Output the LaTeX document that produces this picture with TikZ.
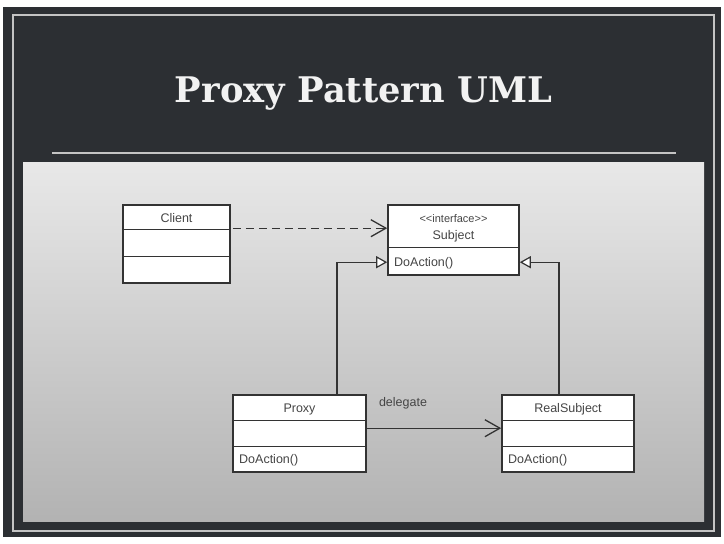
\documentclass[tikz,border=0pt]{standalone}
\usepackage{fontspec}
\usepackage{graphicx}
\setmainfont{Liberation Sans}
\newfontfamily\titlefont{DejaVu Serif}
\usetikzlibrary{arrows.meta}
\definecolor{slate}{HTML}{2C2F33}
\definecolor{frameline}{HTML}{C4C4C4}
\definecolor{boxline}{HTML}{333333}
\definecolor{txt}{HTML}{454545}
\tikzset{
  classbox/.style={draw=boxline, line width=1.6pt, fill=white, rectangle, inner sep=0pt},
  divider/.style={draw=boxline, line width=1.4pt},
  lbl/.style={font=\fontsize{12.5}{14}\selectfont, text=txt, inner sep=0pt},
  conn/.style={draw=boxline, line width=1.3pt},
  gen/.style={conn, -{Triangle[length=11pt,width=12pt,fill=white,line width=1.2pt]}},
  assoc/.style={conn, -{Straight Barb[length=15pt,width=17pt,line width=1.3pt]}},
  dep/.style={assoc, dash pattern=on 8pt off 5pt}
}
\begin{document}
\begin{tikzpicture}[x=1pt,y=-1pt]
\useasboundingbox (0,0) rectangle (724,544);
\fill[white] (0,0) rectangle (724,544);
\fill[slate] (3,7) rectangle (721,537);
\draw[frameline, line width=1.5pt] (13,15) rectangle (714,531);
\node[anchor=base, text=white!90!gray, inner sep=0pt] (title) at (363.5,102)
  {\resizebox{377pt}{!}{\titlefont\bfseries Proxy Pattern UML}};
\draw[frameline, line width=2pt] (52,153) -- (676,153);
\shade[top color=white!91!black, bottom color=white!70!black] (23,162) rectangle (704,521);

% Client
\node[classbox, minimum width=107pt, minimum height=78pt] (client) at (176.5,244) {};
\draw[divider] ([yshift=-25pt]client.north west) -- ([yshift=-25pt]client.north east);
\draw[divider] ([yshift=-52pt]client.north west) -- ([yshift=-52pt]client.north east);
\node[lbl] (clientname) at (176.5,218) {Client};

% Subject
\node[classbox, minimum width=131pt, minimum height=70pt] (subject) at (453.5,240) {};
\draw[divider] ([yshift=-43.5pt]subject.north west) -- ([yshift=-43.5pt]subject.north east);
\node[lbl, font=\fontsize{11}{13}\selectfont] (stereo) at (453.5,219) {{<}{<}interface{>}{>}};
\node[lbl] (subjectname) at (453.5,236) {Subject};
\node[lbl, anchor=west] (subjectop) at (394,263) {DoAction()};

% Proxy
\node[classbox, minimum width=133pt, minimum height=77pt] (proxy) at (299.5,433.5) {};
\draw[divider] ([yshift=-26pt]proxy.north west) -- ([yshift=-26pt]proxy.north east);
\draw[divider] ([yshift=-52pt]proxy.north west) -- ([yshift=-52pt]proxy.north east);
\node[lbl] (proxyname) at (299.5,409) {Proxy};
\node[lbl, anchor=west] (proxyop) at (239,460.5) {DoAction()};

% RealSubject
\node[classbox, minimum width=132pt, minimum height=77pt] (real) at (568,433.5) {};
\draw[divider] ([yshift=-26pt]real.north west) -- ([yshift=-26pt]real.north east);
\draw[divider] ([yshift=-52pt]real.north west) -- ([yshift=-52pt]real.north east);
\node[lbl] (realname) at (568,409) {RealSubject};
\node[lbl, anchor=west] (realop) at (508,460.5) {DoAction()};

% connectors
\draw[dep] ([xshift=2pt,yshift=-24pt]client.north east) -- ([yshift=-24pt]subject.north west);
\draw[gen] ([xshift=37.5pt]proxy.north) |- ([yshift=-58pt]subject.north west);
\draw[gen] ([xshift=-9pt]real.north) |- ([yshift=-58pt]subject.north east);
\draw[assoc] ([yshift=-34pt]proxy.north east) -- ([yshift=-34pt]real.north west);
\node[lbl] (delegate) at (403,403) {delegate};
\end{tikzpicture}
\end{document}
